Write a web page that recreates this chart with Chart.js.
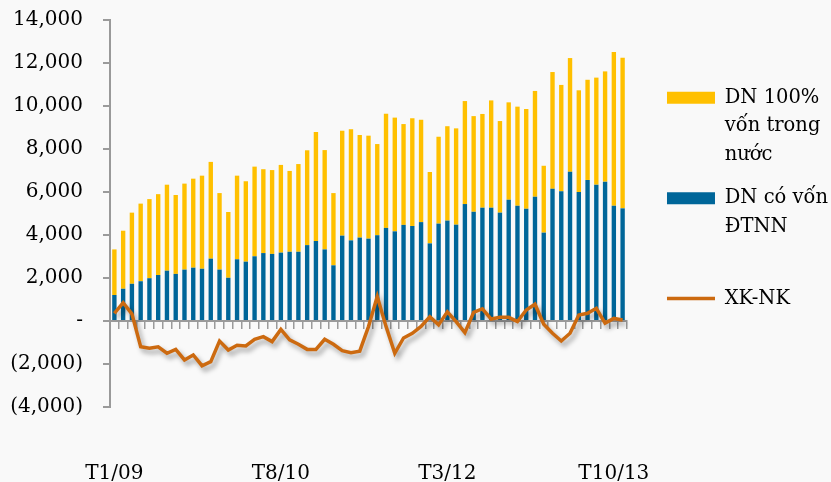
<!DOCTYPE html>
<html>
<head>
<meta charset="utf-8">
<script src="https://cdn.jsdelivr.net/npm/chart.js@4.4.1/dist/chart.umd.min.js"></script>
<style>
  html, body { margin: 0; padding: 0; background: #f9f9f9; }
  #wrap { width: 831px; height: 482px; }
</style>
</head>
<body>
<div id="wrap"><canvas id="chart-trade" width="831" height="482"></canvas></div>
<script>
// Thang T1/09 -> T11/13
const months = [];
for (let y = 9; y <= 13; y++) {
  for (let m = 1; m <= 12; m++) {
    if (y === 13 && m > 11) break;
    months.push("T" + m + "/" + String(y).padStart(2, "0"));
  }
}

// DN co von DTNN (xanh)
const fdiValues = [
  1210, 1500, 1730, 1850, 1990, 2140, 2340, 2190, 2390, 2480,
  2430, 2900, 2390, 2010, 2870, 2760, 3010, 3160, 3120, 3180,
  3220, 3220, 3530, 3720, 3330, 2590, 3970, 3750, 3880, 3830,
  3990, 4330, 4170, 4470, 4420, 4600, 3610, 4530, 4670, 4480,
  5440, 5080, 5270, 5270, 5040, 5640, 5360, 5220, 5780, 4110,
  6150, 6030, 6940, 6000, 6560, 6340, 6480, 5360, 5240
];

// DN 100% von trong nuoc (vang)
const domesticValues = [
  2120, 2700, 3310, 3610, 3680, 3760, 4000, 3670, 4000, 4140,
  4330, 4500, 3560, 3060, 3890, 3740, 4170, 3900, 3900, 4080,
  3760, 4080, 4410, 5070, 4620, 3360, 4880, 5170, 4770, 4790,
  4240, 5310, 5290, 4690, 5010, 4760, 3320, 4040, 4390, 4480,
  4790, 4450, 4360, 4990, 4260, 4530, 4610, 4640, 4920, 3110,
  5430, 4950, 5290, 4730, 4660, 4980, 5130, 7150, 7010
];

// XK-NK
const balanceValues = [
   360,   850,   330, -1200, -1270, -1200, -1500, -1320, -1810, -1580,
  -2080, -1890,  -930, -1350, -1130, -1160,  -850,  -730,  -960,  -390,
   -880, -1080, -1320, -1320,  -850, -1080, -1380, -1470, -1400,  -260,
   1140,  -250, -1500,  -790,  -570,  -250,   200,  -180,   430,   -30,
   -540,   400,   570,    90,   170,   170,   -30,   510,   780,  -150,
   -570,  -930,  -570,   280,   360,   590,  -100,   120,    50
];

const yTicks = [-4000, -2000, 0, 2000, 4000, 6000, 8000, 10000, 12000, 14000];

Chart.defaults.font.family = "'DejaVu Serif', serif";
Chart.defaults.color = "#000";

function formatTick(v) {
  if (v === 0) return "-";
  const s = Math.abs(v).toLocaleString("en-US");
  return v < 0 ? "(" + s + ")" : s;
}

// ombre sous la ligne XK-NK + decalage de la legende
const chartTweaks = {
  id: "chartTweaks",
  afterLayout(chart) {
    chart.legend.left += 25;
    chart.legend.right += 25;
  },
  beforeDatasetDraw(chart, args) {
    if (args.index !== 2) return;
    const ctx = chart.ctx;
    ctx.save();
    ctx.shadowColor = "rgba(0,0,0,0.35)";
    ctx.shadowBlur = 5;
    ctx.shadowOffsetX = 3;
    ctx.shadowOffsetY = 4;
  },
  afterDatasetDraw(chart, args) {
    if (args.index !== 2) return;
    chart.ctx.restore();
  }
};

const legendOrder = [1, 0, 2];

const ctx = document.getElementById("chart-trade").getContext("2d");
new Chart(ctx, {
  type: "bar",
  data: {
    labels: months,
    datasets: [
      {
        label: ["DN có vốn", "ĐTNN", ""],
        data: fdiValues,
        backgroundColor: "#006699",
        stack: "dn",
        order: 1,
        categoryPercentage: 1,
        barPercentage: 0.5,
        pointStyle: "rect"
      },
      {
        label: ["DN 100%", "vốn trong", "nước"],
        data: domesticValues,
        backgroundColor: "#ffc000",
        stack: "dn",
        order: 1,
        categoryPercentage: 1,
        barPercentage: 0.5,
        pointStyle: "rect"
      },
      {
        type: "line",
        label: "XK-NK",
        data: balanceValues,
        borderColor: "#cc6a10",
        backgroundColor: "#cc6a10",
        borderWidth: 3.5,
        pointRadius: 0,
        tension: 0,
        stack: "balance",
        order: 0,
        pointStyle: "line"
      }
    ]
  },
  options: {
    responsive: false,
    animation: false,
    layout: { padding: { top: 20, right: 18, bottom: 0, left: 0 } },
    plugins: {
      tooltip: { enabled: false },
      legend: {
        position: "right",
        align: "start",
        title: { display: true, text: "", font: { size: 20 }, padding: { top: 29, bottom: 0 } },
        labels: {
          usePointStyle: true,
          pointStyleWidth: 48,
          boxHeight: 12,
          padding: 15,
          color: "#000",
          font: { size: 19.5, lineHeight: 1.46 },
          sort: (a, b) => legendOrder[a.datasetIndex] - legendOrder[b.datasetIndex]
        }
      }
    },
    scales: {
      x: {
        stacked: true,
        offset: true,
        afterFit: s => { s.height = 75; s.paddingLeft = 0; s.paddingRight = 0; },
        grid: { display: false },
        border: { display: false },
        ticks: {
          autoSkip: false,
          maxRotation: 0,
          padding: 47,
          font: { size: 20 },
          callback: (v, i) => (i % 19 === 0 ? months[i] : "")
        }
      },
      x2: {
        type: "category",
        axis: "x",
        position: { y: 0 },
        offset: true,
        afterFit: s => { s.height = 0; s.paddingLeft = 0; s.paddingRight = 0; },
        grid: { drawOnChartArea: false, offset: true, tickLength: 7, color: "#9a9a9a", lineWidth: 1.5 },
        border: { color: "#9a9a9a", width: 2 },
        ticks: { display: false }
      },
      y: {
        stacked: true,
        min: -4000,
        max: 14000,
        afterBuildTicks: s => { s.ticks = yTicks.map(v => ({ value: v })); },
        afterFit: s => { s.width = 110; s.paddingTop = 0; s.paddingBottom = 0; },
        grid: { drawOnChartArea: false, tickLength: 7, color: "#9a9a9a", lineWidth: 2 },
        border: { color: "#9a9a9a", width: 2 },
        ticks: {
          padding: 20,
          font: { size: 20 },
          callback: v => formatTick(v)
        }
      }
    }
  },
  plugins: [chartTweaks]
});
</script>
</body>
</html>
